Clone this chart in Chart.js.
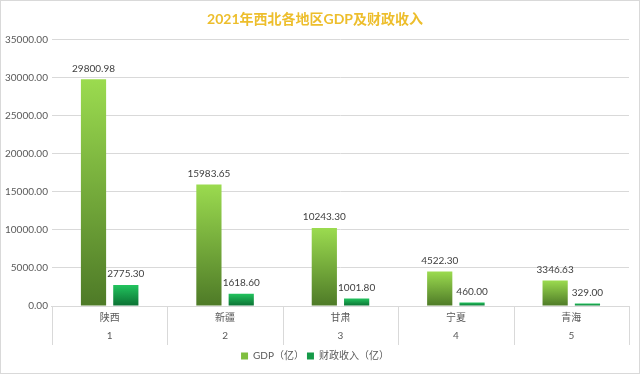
<!DOCTYPE html>
<html>
<head>
<meta charset="utf-8">
<script src="https://cdn.jsdelivr.net/npm/chart.js@4.4.0/dist/chart.umd.min.js"></script>
<style>
  html, body { margin: 0; padding: 0; background: #fff; }
  #wrap { position: relative; width: 638px; height: 372px; border: 1px solid #D9D9D9; }
</style>
</head>
<body>
<div id="wrap"><canvas id="chart" width="638" height="372"></canvas></div>
<script>
const provinces = ["陕西", "新疆", "甘肃", "宁夏", "青海"];
const ranks = ["1", "2", "3", "4", "5"];
const gdp = [29800.98, 15983.65, 10243.30, 4522.30, 3346.63];
const revenue = [2775.30, 1618.60, 1001.80, 460.00, 329.00];
const seriesNames = ["GDP（亿）", "财政收入（亿）"];

const font = "Lato, 'Noto Sans CJK SC', sans-serif";

// gradient from bar top (light) to bar bottom (dark)
function barGradient(light, dark) {
  return function (ctx) {
    const chart = ctx.chart;
    const y = chart.scales.y;
    if (!y || ctx.type !== "data") return light;
    const top = y.getPixelForValue(ctx.raw);
    const bottom = y.getPixelForValue(0);
    if (!isFinite(top) || !isFinite(bottom) || top === bottom) return light;
    const g = chart.ctx.createLinearGradient(0, top, 0, bottom);
    g.addColorStop(0, light);
    g.addColorStop(1, dark);
    return g;
  };
}

const valueLabels = {
  id: "valueLabels",
  afterDatasetsDraw(chart) {
    const c = chart.ctx;
    c.save();
    c.font = "10px " + font;
    c.fillStyle = "#404040";
    c.textAlign = "center";
    c.textBaseline = "bottom";
    chart.data.datasets.forEach((ds, i) => {
      chart.getDatasetMeta(i).data.forEach((bar, j) => {
        c.fillText(ds.data[j].toFixed(2), bar.x, bar.y - 6);
      });
    });
    c.restore();
  }
};

// vertical separators between categories under the axis
const categoryLines = {
  id: "categoryLines",
  afterDraw(chart) {
    const x = chart.scales.x;
    const c = chart.ctx;
    const n = chart.data.labels.length;
    const w = (x.right - x.left) / n;
    c.save();
    c.strokeStyle = "#D9D9D9";
    c.lineWidth = 1;
    for (let i = 0; i <= n; i++) {
      const px = Math.round(x.left + i * w) + 0.5;
      c.beginPath();
      c.moveTo(px, x.top);
      c.lineTo(px, x.top + 39);
      c.stroke();
    }
    c.restore();
  }
};

new Chart(document.getElementById("chart"), {
  type: "bar",
  data: {
    labels: provinces.map((p, i) => [p, ranks[i]]),
    datasets: [
      {
        label: seriesNames[0],
        data: gdp,
        backgroundColor: barGradient("#9BDB4F", "#4E7A27"),
        categoryPercentage: 0.56,
        barPercentage: 0.78,
      },
      {
        label: seriesNames[1],
        data: revenue,
        backgroundColor: barGradient("#22C45E", "#0B7033"),
        categoryPercentage: 0.56,
        barPercentage: 0.78,
      },
    ],
  },
  plugins: [valueLabels, categoryLines],
  options: {
    responsive: false,
    animation: false,
    layout: { padding: { left: 0, right: 10, top: 4, bottom: 2 } },
    plugins: {
      title: {
        display: true,
        text: "2021年西北各地区GDP及财政收入",
        color: "#EDBE2C",
        font: { family: font, size: 14, weight: "bold" },
        padding: { top: 6, bottom: 12 },
      },
      legend: {
        position: "bottom",
        labels: {
          color: "#595959",
          font: { family: font, size: 10 },
          boxWidth: 7,
          boxHeight: 7,
          padding: 3,
          generateLabels(chart) {
            const cols = ["#7FBF3F", "#159A48"];
            return chart.data.datasets.map((ds, i) => ({
              text: ds.label,
              fillStyle: cols[i],
              strokeStyle: cols[i],
              lineWidth: 0,
              fontColor: "#595959",
              datasetIndex: i,
            }));
          },
        },
      },
      tooltip: { enabled: false },
    },
    scales: {
      x: {
        grid: { display: false, drawTicks: false },
        border: { color: "#D9D9D9" },
        ticks: {
          color: "#595959",
          font: { family: font, size: 10, lineHeight: 1.8 },
          padding: 3,
          maxRotation: 0,
        },
      },
      y: {
        min: 0,
        max: 35000,
        grid: { color: "#D9D9D9", drawTicks: false },
        border: { display: false },
        ticks: {
          stepSize: 5000,
          color: "#595959",
          font: { family: font, size: 10 },
          padding: 4,
          callback: (v) => v.toFixed(2),
        },
      },
    },
  },
});
</script>
</body>
</html>
